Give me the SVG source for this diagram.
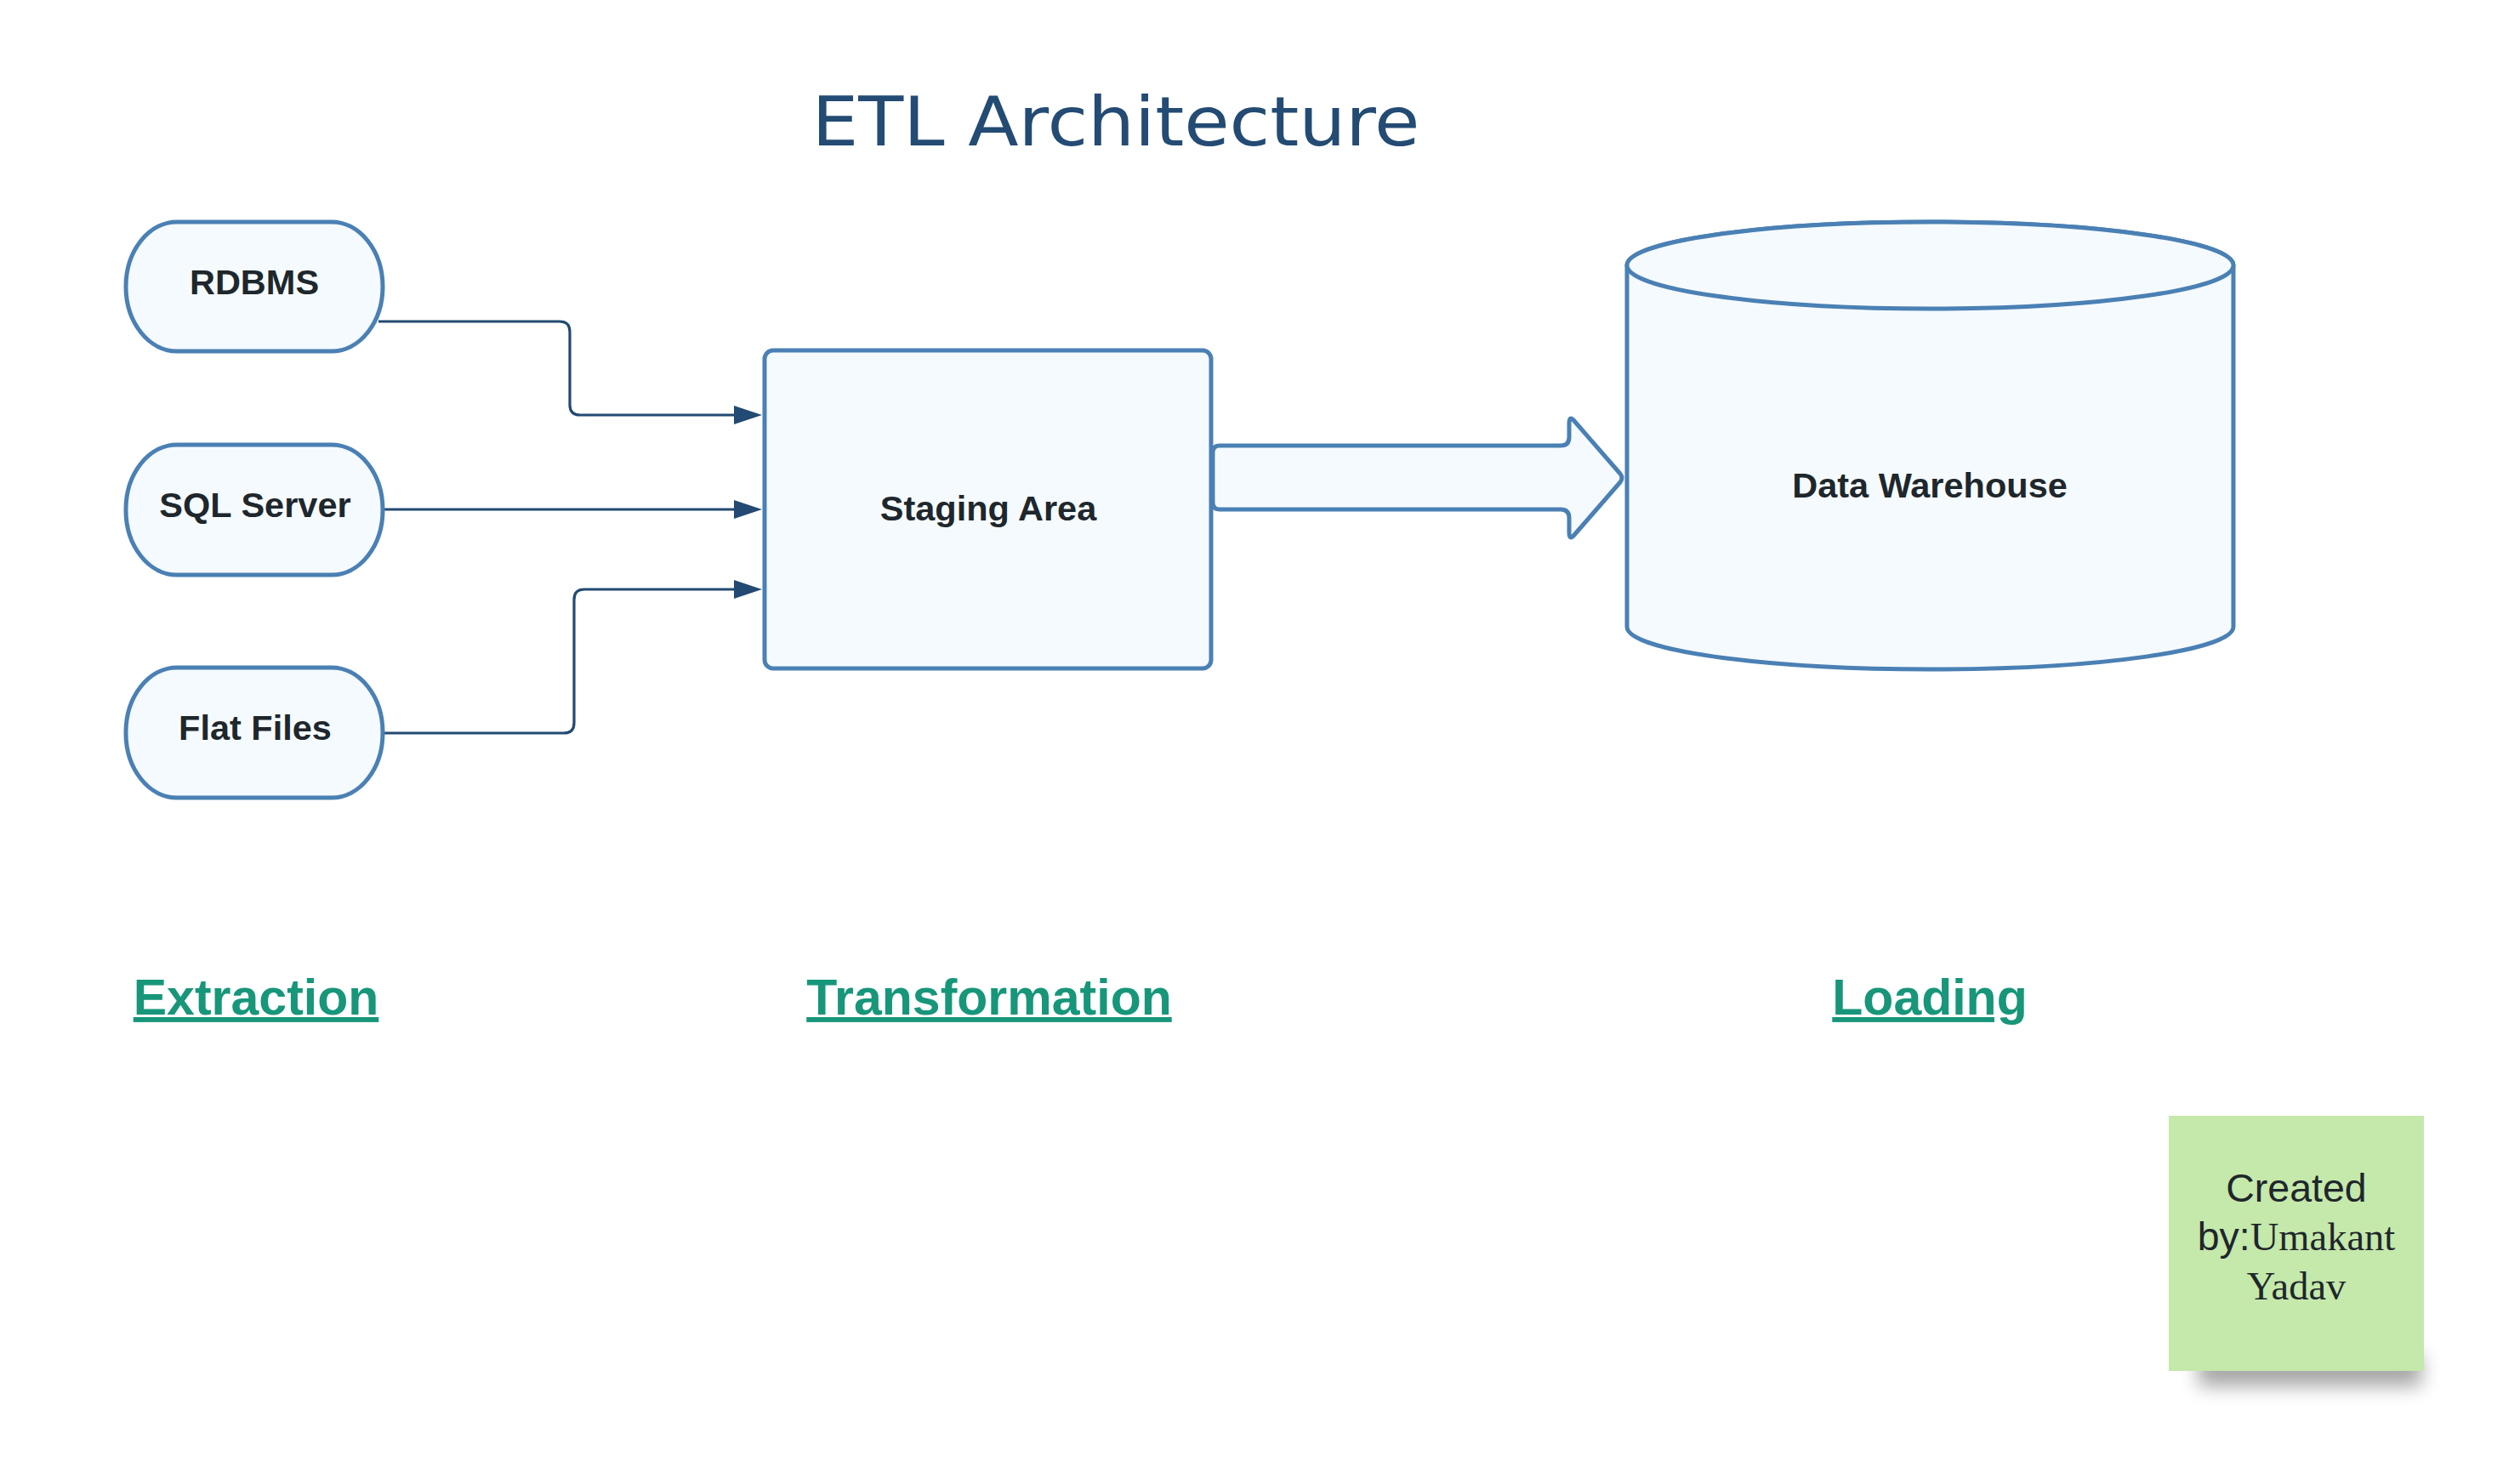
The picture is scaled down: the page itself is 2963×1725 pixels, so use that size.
<svg xmlns="http://www.w3.org/2000/svg" width="2963" height="1725" viewBox="0 0 2963 1725">
  <style>
    .node { fill: #f5faff; stroke: #4a80b4; stroke-width: 5; stroke-linejoin: round; }
    .lbl { font-family: "Liberation Sans", Arial, sans-serif; font-weight: bold; font-size: 41.5px; fill: #1e272c; text-anchor: middle; }
    .conn { fill: none; stroke: #224a72; stroke-width: 3.2; }
    .phase { font-family: "Liberation Sans", Arial, sans-serif; font-weight: bold; font-size: 59px; fill: #17967a; text-anchor: middle; text-decoration: underline; }
    .note { font-size: 46.5px; fill: #1e272c; text-anchor: middle; }
    .sans { font-family: "Liberation Sans", Arial, sans-serif; }
    .serif { font-family: "Liberation Serif", "Times New Roman", serif; }
  </style>
  <defs>
    <marker id="arrow" viewBox="0 0 33 22" refX="3" refY="11" markerWidth="33" markerHeight="22" markerUnits="userSpaceOnUse" orient="auto">
      <path d="M0,0 L33,11 L0,22 Z" fill="#224a72"/>
    </marker>
    <filter id="shadow" x="-30%" y="-100%" width="160%" height="300%">
      <feGaussianBlur stdDeviation="11"/>
    </filter>
  </defs>
  <rect width="2963" height="1725" fill="#ffffff"/>

  <text id="title" x="1312" y="171" font-family="DejaVu Sans, sans-serif" font-size="80" fill="#234b73" text-anchor="middle" textLength="715" lengthAdjust="spacingAndGlyphs">ETL Architecture</text>

  <g id="connectors">
    <path class="conn" d="M445 378 H658 Q670 378 670 390 V476 Q670 488 682 488 H866" marker-end="url(#arrow)"/>
    <path class="conn" d="M452 599 H866" marker-end="url(#arrow)"/>
    <path class="conn" d="M452 862 H663 Q675 862 675 850 V705 Q675 693 687 693 H866" marker-end="url(#arrow)"/>
  </g>

  <g id="rdbms">
    <rect class="node" x="148" y="261" width="302" height="152" rx="60" ry="76"/>
    <text class="lbl" x="299" y="346">RDBMS</text>
  </g>
  <g id="sqlserver">
    <rect class="node" x="148" y="523" width="302" height="153" rx="60" ry="76"/>
    <text class="lbl" x="300" y="608">SQL Server</text>
  </g>
  <g id="flatfiles">
    <rect class="node" x="148" y="785" width="302" height="153" rx="60" ry="76"/>
    <text class="lbl" x="300" y="870">Flat Files</text>
  </g>

  <g id="staging">
    <rect class="node" x="899" y="412" width="525" height="374" rx="10"/>
    <text class="lbl" x="1162" y="612">Staging Area</text>
  </g>

  <g id="load-arrow">
    <path class="node" d="M1434 524 H1835 Q1845 524 1845 514 V498 Q1845 488 1851 495 L1905 557 Q1909 562 1905 567 L1851 629 Q1845 636 1845 626 V609 Q1845 599 1835 599 H1434 Q1426 599 1426 591 V532 Q1426 524 1434 524 Z"/>
  </g>

  <g id="warehouse">
    <path class="node" d="M1913 312 A356.5 51 0 0 1 2626 312 V737 A356.5 50 0 0 1 1913 737 Z"/>
    <ellipse class="node" cx="2269.5" cy="312" rx="356.5" ry="51"/>
    <text class="lbl" x="2269" y="585">Data Warehouse</text>
  </g>

  <g id="phase-labels">
    <text class="phase" x="301" y="1193">Extraction</text>
    <text class="phase" x="1163" y="1193">Transformation</text>
    <text class="phase" x="2269" y="1193">Loading</text>
  </g>

  <g id="note">
    <rect x="2585" y="1592" width="262" height="38" fill="#000000" opacity="0.35" filter="url(#shadow)"/>
    <rect x="2550" y="1312" width="300" height="300" fill="#c5e8ab"/>
    <text class="note" x="2700" y="1413"><tspan class="sans">Created</tspan></text>
    <text class="note" x="2700" y="1470"><tspan class="sans">by:</tspan><tspan class="serif">Umakant</tspan></text>
    <text class="note" x="2700" y="1528"><tspan class="serif">Yadav</tspan></text>
  </g>
</svg>
